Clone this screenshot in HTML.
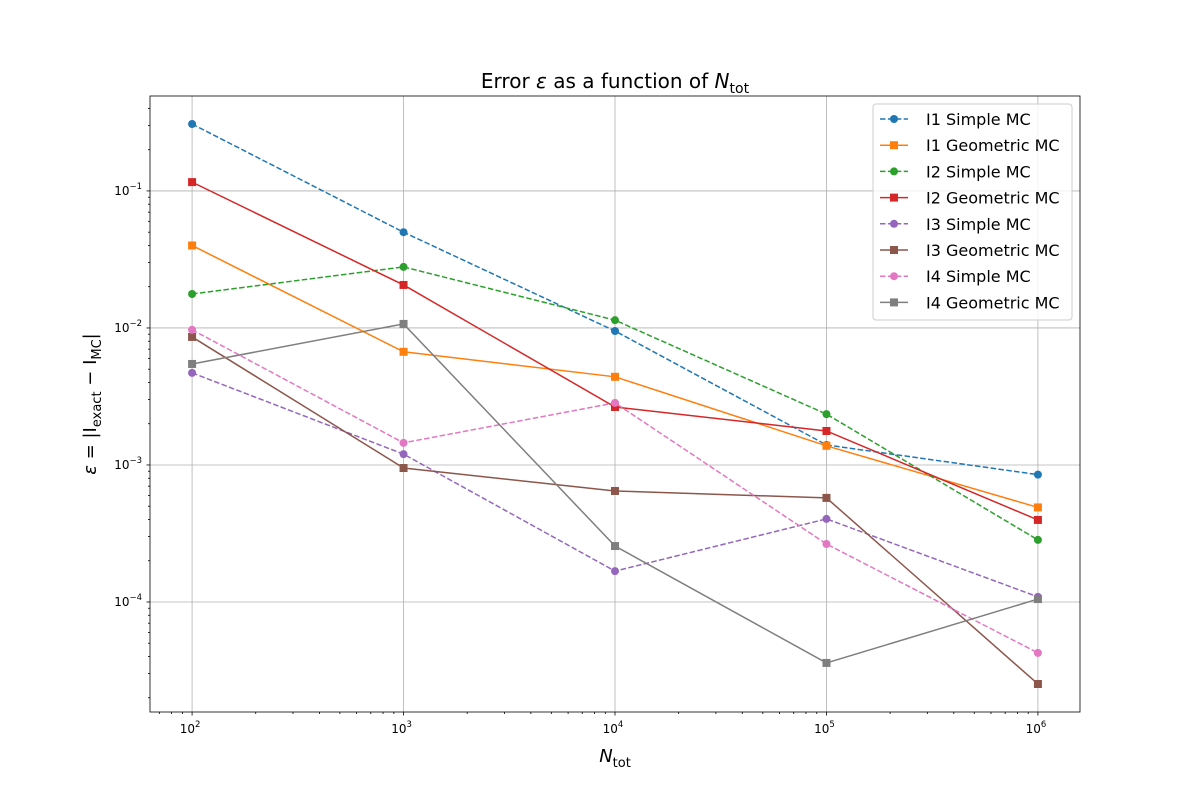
<!DOCTYPE html>
<html><head><meta charset="utf-8"><style>body{margin:0;background:#fff}svg{display:block}</style></head>
<body>
<svg id="c" width="1200" height="800" xmlns="http://www.w3.org/2000/svg" font-family="'DejaVu Sans','Liberation Sans',sans-serif"></svg>
<script>
const categories=[100,1000,10000,100000,1000000];
const seriesNames=["I1 Simple MC","I1 Geometric MC","I2 Simple MC","I2 Geometric MC","I3 Simple MC","I3 Geometric MC","I4 Simple MC","I4 Geometric MC"];
const i1Simple=[0.308,0.050,0.0095,0.0014,0.00085];
const i1Geo=[0.040,0.0067,0.0044,0.00138,0.00049];
const i2Simple=[0.0177,0.0279,0.0114,0.00235,0.000284];
const i2Geo=[0.116,0.0206,0.00265,0.00177,0.000397];
const i3Simple=[0.0047,0.0012,0.000168,0.000404,0.000109];
const i3Geo=[0.0086,0.00095,0.000646,0.000575,0.0000252];
const i4Simple=[0.0097,0.00145,0.00284,0.000265,0.0000425];
const i4Geo=[0.00546,0.0107,0.000256,0.0000359,0.000105];
const xTickLabels=["2","3","4","5","6"];
const yTickLabels=["-4","-3","-2","-1"];
const allSeries=[i1Simple,i1Geo,i2Simple,i2Geo,i3Simple,i3Geo,i4Simple,i4Geo];
const colors=["#1f77b4","#ff7f0e","#2ca02c","#d62728","#9467bd","#8c564b","#e377c2","#7f7f7f"];
const L=150,R=1080,T=96,B=712;
const xl0=1.801,xl1=6.199,yl0=-4.803,yl1=-0.307;
const X=v=>L+(Math.log10(v)-xl0)/(xl1-xl0)*(R-L);
const Y=v=>B-(Math.log10(v)-yl0)/(yl1-yl0)*(B-T);
const svg=document.getElementById('c');
const NS="http://www.w3.org/2000/svg";
function mk(t,a,p){const e=document.createElementNS(NS,t);for(const k in a)e.setAttribute(k,a[k]);(p||svg).appendChild(e);return e;}
// grid
const grid=mk('g',{});


for(let d=2;d<=6;d++){mk('line',{x1:X(10**d),x2:X(10**d),y1:T,y2:B,stroke:'#b0b0b0','stroke-width':0.8},grid);}
for(let d=-4;d<=-1;d++){mk('line',{x1:L,x2:R,y1:Y(10**d),y2:Y(10**d),stroke:'#b0b0b0','stroke-width':0.8},grid);}
// axes ticks
const ax=mk('g',{});


for(let d=1;d<=6;d++)for(let m=1;m<10;m++){const v=m*10**d;const lg=Math.log10(v);if(lg<xl0||lg>xl1)continue;const x=X(v);mk('line',{x1:x,x2:x,y1:B,y2:B+(m==1?3.5:2),stroke:'#000','stroke-width':0.8},ax);}
for(let d=-5;d<=0;d++)for(let m=1;m<10;m++){const v=m*10**d;const lg=Math.log10(v);if(lg<yl0||lg>yl1)continue;const y=Y(v);mk('line',{x1:L,x2:L-(m==1?3.5:2),y1:y,y2:y,stroke:'#000','stroke-width':0.8},ax);}
xTickLabels.forEach(s=>{const x=X(10**(+s));const t=mk('text',{x:x-2,y:B+21,'text-anchor':'middle','font-size':12},ax);t.innerHTML='10<tspan dy="-6" font-size="8.5">'+s+'</tspan>';});
yTickLabels.forEach(s=>{const y=Y(10**(+s));const t=mk('text',{x:L-8,y:y+4,'text-anchor':'end','font-size':12},ax);t.innerHTML='10<tspan dy="-6" font-size="8.5">\u2212'+s.slice(1)+'</tspan>';});
// series
allSeries.forEach((s,i)=>{const g=mk('g',{});
const dash=i%2==0;mk('polyline',{points:s.map((v,j)=>X(categories[j])+','+Y(v)).join(' '),fill:'none',stroke:colors[i],'stroke-width':1.5,'stroke-dasharray':dash?'5.5,2.4':'none'},g);
s.forEach((v,j)=>{const x=X(categories[j]),y=Y(v);const m=dash?mk('circle',{cx:x,cy:y,r:4,fill:colors[i]},g):mk('rect',{x:x-4,y:y-4,width:8,height:8,fill:colors[i]},g);});});
mk('rect',{x:L,y:T,width:R-L,height:B-T,fill:'none',stroke:'#000','stroke-width':0.8});
// legend
const lg=mk('g',{});


mk('rect',{x:873,y:104,width:199,height:216,rx:3,fill:'#fff','fill-opacity':0.8,stroke:'#ccc'},lg);
seriesNames.forEach((n,i)=>{const y=119+i*26.2;const e=mk('g',{},lg);
const dash=i%2==0;mk('line',{x1:880,x2:908,y1:y,y2:y,stroke:colors[i],'stroke-width':1.5,'stroke-dasharray':dash?'5.5,2.4':'none'},e);
if(dash)mk('circle',{cx:894,cy:y,r:4,fill:colors[i]},e);else mk('rect',{x:890,y:y-4,width:8,height:8,fill:colors[i]},e);
const t=mk('text',{x:926,y:y+6,'font-size':16},e);t.textContent=n;});
// titles
const tt=mk('text',{x:615,y:88,'text-anchor':'middle','font-size':20});tt.innerHTML='Error <tspan font-style="italic">ε</tspan> as a function of <tspan font-style="italic">N</tspan><tspan dy="5" font-size="14">tot</tspan>';

const xt=mk('text',{x:615,y:762,'text-anchor':'middle','font-size':18});xt.innerHTML='<tspan font-style="italic">N</tspan><tspan dy="5" font-size="13">tot</tspan>';

const yt=mk('text',{x:0,y:0,'text-anchor':'middle','font-size':18,transform:'translate(96,404) rotate(-90)'});yt.innerHTML='<tspan font-style="italic">ε</tspan> = |I<tspan dy="5" font-size="13">exact</tspan><tspan dy="-5"> − I</tspan><tspan dy="5" font-size="13">MC</tspan><tspan dy="-5">|</tspan>';

</script>
</body></html>
